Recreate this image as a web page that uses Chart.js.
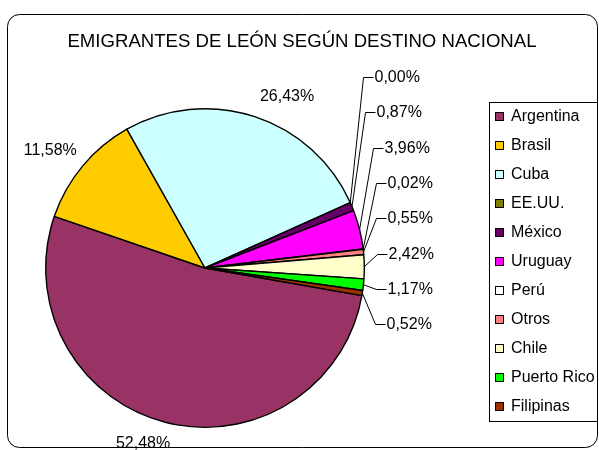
<!DOCTYPE html>
<html>
<head>
<meta charset="utf-8">
<script src="https://cdn.jsdelivr.net/npm/chart.js@4"></script>
<style>
  html, body { margin: 0; padding: 0; background: #fff; }
  canvas { display: block; }
</style>
</head>
<body>
<canvas id="pieChart" width="599" height="450"></canvas>
<script>
const destinos = ['Argentina', 'Brasil', 'Cuba', 'EE.UU.', 'México', 'Uruguay', 'Perú', 'Otros', 'Chile', 'Puerto Rico', 'Filipinas'];
const porcentajes = [52.48, 11.58, 26.43, 0.00, 0.87, 3.96, 0.02, 0.55, 2.42, 1.17, 0.52];
const colores = ['#993366', '#FFCC00', '#CCFFFF', '#808000', '#660066', '#FF00FF', '#FFFFFF', '#FF8080', '#FFFFCC', '#00FF00', '#993300'];
const titulo = 'EMIGRANTES DE LEÓN SEGÚN DESTINO NACIONAL';

const FONT = "'Liberation Sans', Arial, sans-serif";

function fmt(v) {
    return v.toFixed(2).replace('.', ',') + '%';
}

// big slices get their label out in the open: [angle shift in deg, distance from centre]
const bigLabelPos = { 0: [5, 186], 1: [-2.7, 194], 2: [7.4, 190] };

function roundBox(ctx, x, y, w, h, r) {
    ctx.beginPath();
    ctx.moveTo(x + r, y);
    ctx.arcTo(x + w, y, x + w, y + h, r);
    ctx.arcTo(x + w, y + h, x, y + h, r);
    ctx.arcTo(x, y + h, x, y, r);
    ctx.arcTo(x, y, x + w, y, r);
    ctx.closePath();
}

const decorPlugin = {
    id: 'decor',
    beforeDraw(chart) {
        const ctx = chart.ctx;
        ctx.save();
        ctx.fillStyle = '#fff';
        ctx.fillRect(0, 0, chart.width, chart.height);
        ctx.strokeStyle = '#000';
        ctx.lineWidth = 1;
        roundBox(ctx, 7.5, 14.5, 590, 433, 12);
        ctx.stroke();

        ctx.fillStyle = '#000';
        ctx.font = '18.6px ' + FONT;
        ctx.textAlign = 'center';
        ctx.textBaseline = 'middle';
        ctx.fillText(titulo, 302, 42);
        ctx.restore();
    },
    afterDraw(chart) {
        const ctx = chart.ctx;
        const meta = chart.getDatasetMeta(0);
        ctx.save();
        ctx.fillStyle = '#000';
        ctx.strokeStyle = '#000';
        ctx.lineWidth = 1;
        ctx.font = '16px ' + FONT;
        ctx.textBaseline = 'middle';

        // percentage labels
        let k = 0;
        meta.data.forEach((arc, i) => {
            const p = arc.getProps(['x', 'y', 'startAngle', 'endAngle', 'outerRadius'], true);
            const mid = (p.startAngle + p.endAngle) / 2;
            const txt = fmt(porcentajes[i]);
            if (bigLabelPos[i]) {
                const a = mid + bigLabelPos[i][0] * Math.PI / 180;
                const d = bigLabelPos[i][1];
                ctx.textAlign = 'center';
                ctx.fillText(txt, p.x + Math.cos(a) * d, p.y + Math.sin(a) * d);
            } else {
                // small slices: stacked on the right with leader lines
                const ax = p.x + Math.cos(mid) * p.outerRadius;
                const ay = p.y + Math.sin(mid) * p.outerRadius;
                const ly = Math.round(77 + 35.3 * k) + 0.5;
                const ex = Math.round(ax + 13) + 0.5;
                ctx.beginPath();
                ctx.moveTo(ax, ay);
                ctx.lineTo(ex, ly);
                ctx.lineTo(ex + 10, ly);
                ctx.stroke();
                ctx.textAlign = 'left';
                ctx.fillText(txt, ex + 11, ly);
                k++;
            }
        });

        // legend
        ctx.strokeRect(489.5, 102.5, 108, 319);
        destinos.forEach((name, i) => {
            const cy = 117 + 29 * i;
            ctx.fillStyle = colores[i];
            ctx.fillRect(495.5, cy - 4.5, 8, 8);
            ctx.strokeRect(495.5, cy - 4.5, 8, 8);
            ctx.fillStyle = '#000';
            ctx.textAlign = 'left';
            ctx.fillText(name, 511, cy);
        });
        ctx.restore();
    }
};

new Chart(document.getElementById('pieChart'), {
    type: 'pie',
    data: {
        labels: destinos,
        datasets: [{
            data: porcentajes,
            backgroundColor: colores,
            borderColor: '#000',
            borderWidth: 1.4
        }]
    },
    options: {
        responsive: false,
        animation: false,
        devicePixelRatio: 1,
        rotation: 100,
        layout: { padding: { left: 45, right: 234, top: 108, bottom: 22 } },
        plugins: {
            legend: { display: false },
            title: { display: false },
            tooltip: { enabled: false }
        }
    },
    plugins: [decorPlugin]
});
</script>
</body>
</html>
